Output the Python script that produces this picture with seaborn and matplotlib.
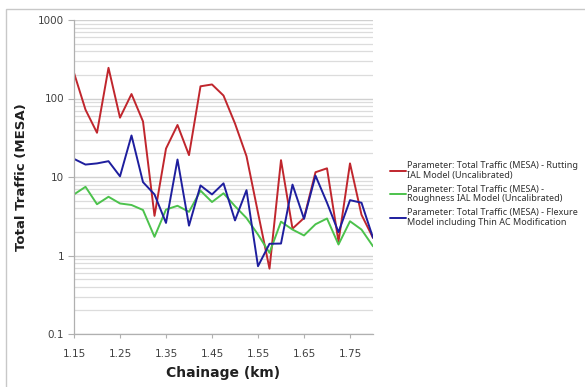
import numpy as np
import pandas as pd
import matplotlib
matplotlib.use("Agg")
import matplotlib.pyplot as plt
import seaborn as sns
from matplotlib.ticker import FixedLocator, LogLocator, NullFormatter, FixedFormatter
from matplotlib.patches import Rectangle

chainage = [1.15, 1.175, 1.2, 1.225, 1.25, 1.275, 1.3, 1.325, 1.35, 1.375,
            1.4, 1.425, 1.45, 1.475, 1.5, 1.525, 1.55, 1.575, 1.6, 1.625,
            1.65, 1.675, 1.7, 1.725, 1.75, 1.775, 1.8]
rutting = [212, 72, 36.6, 246, 57, 114, 51, 3.2, 23, 46,
           19, 143, 151, 109, 48, 18.4, 3.5, 0.68, 16.4, 2.2,
           3.0, 11.5, 12.9, 1.5, 14.9, 3.3, 1.68]
roughness = [6.0, 7.5, 4.5, 5.6, 4.6, 4.4, 3.8, 1.73, 3.85, 4.3,
             3.6, 6.7, 4.8, 6.2, 4.25, 3.0, 1.85, 1.08, 2.7, 2.14,
             1.8, 2.5, 2.96, 1.38, 2.73, 2.14, 1.31]
flexure = [17, 14.4, 14.9, 15.9, 10.2, 33.8, 8.6, 6.0, 2.6, 16.7,
           2.4, 7.8, 6.0, 8.3, 2.8, 6.8, 0.73, 1.41, 1.42, 8.0,
           2.93, 10.4, 4.7, 1.98, 5.07, 4.7, 1.68]
labels = ["Parameter: Total Traffic (MESA) - Rutting\nIAL Model (Uncalibrated)",
          "Parameter: Total Traffic (MESA) -\nRoughness IAL Model (Uncalibrated)",
          "Parameter: Total Traffic (MESA) - Flexure\nModel including Thin AC Modification"]
colors = ["#C0262D", "#4CC24C", "#1E1E9E"]
xticks = [1.15, 1.25, 1.35, 1.45, 1.55, 1.65, 1.75]
xticklabels = ["1.15", "1.25", "1.35", "1.45", "1.55", "1.65", "1.75"]
yticks = [0.1, 1, 10, 100, 1000]
yticklabels = ["0.1", "1", "10", "100", "1000"]

df = pd.DataFrame({
    "Chainage": chainage * 3,
    "Value": rutting + roughness + flexure,
    "Series": [labels[0]] * len(chainage) + [labels[1]] * len(chainage) + [labels[2]] * len(chainage),
})

sns.set_theme(style="white")
plt.rcParams['font.family'] = ['DejaVu Sans']

fig = plt.figure(figsize=(5.85, 3.87), dpi=100)
W, H = 585, 387
ax = fig.add_axes([74 / W, 1 - 334 / H, (373 - 74) / W, (334 - 20) / H])

# figure frame
fig.patches.append(Rectangle((6 / W, -0.05), 1.2, 1 - 9 / H + 0.05, transform=fig.transFigure,
                             fill=False, edgecolor="#C8C8C8", linewidth=1.0, zorder=0))

sns.lineplot(data=df, x="Chainage", y="Value", hue="Series", palette=colors,
             linewidth=1.4, ax=ax, legend=True, sort=False)

ax.set_yscale("log")
ax.set_ylim(0.1, 1000)
ax.set_xlim(1.15, 1.80)

ax.yaxis.set_major_locator(FixedLocator(yticks))
ax.yaxis.set_major_formatter(FixedFormatter(yticklabels))
ax.yaxis.set_minor_locator(LogLocator(base=10, subs=np.arange(2, 10), numticks=20))
ax.yaxis.set_minor_formatter(NullFormatter())
ax.set_xticks(xticks)
ax.set_xticklabels(xticklabels)

ax.grid(True, which="major", axis="y", color="#D0D0D0", linewidth=1.0)
ax.grid(True, which="minor", axis="y", color="#DCDCDC", linewidth=0.9)
ax.set_axisbelow(True)

for s in ["top", "right"]:
    ax.spines[s].set_visible(False)
for s in ["left", "bottom"]:
    ax.spines[s].set_color("#B0B0B0")
    ax.spines[s].set_linewidth(0.9)

ax.tick_params(axis="both", which="major", length=4, width=0.8, color="#B0B0B0",
               labelsize=7.5, labelcolor="#404040", pad=3)
ax.tick_params(axis="y", which="minor", length=0)
ax.tick_params(axis="x", which="major", length=3, pad=8)
ax.tick_params(left=True, bottom=True)

ax.set_xlabel("Chainage (km)", fontsize=10, fontweight="bold", color="#202020", labelpad=5)
ax.set_ylabel("Total Traffic (MESA)", fontsize=9.5, fontweight="bold", color="#202020", labelpad=0)
ax.yaxis.set_label_coords((28 - 74) / (373 - 74), 0.5)

handles, lbls = ax.get_legend_handles_labels()
ax.get_legend().remove()
leg = fig.legend(handles, lbls, loc="upper left", bbox_to_anchor=(390 / W, 1 - 161 / H),
                 frameon=False, handlelength=1.8, handletextpad=0.05,
                 labelspacing=0.55, borderaxespad=0, borderpad=0,
                 prop={"family": ["Noto Sans", "DejaVu Sans"], "size": 6.5})
for t in leg.get_texts():
    t.set_color("#303030")
    t.set_linespacing(1.1)

fig.savefig("out.png", dpi=100)
